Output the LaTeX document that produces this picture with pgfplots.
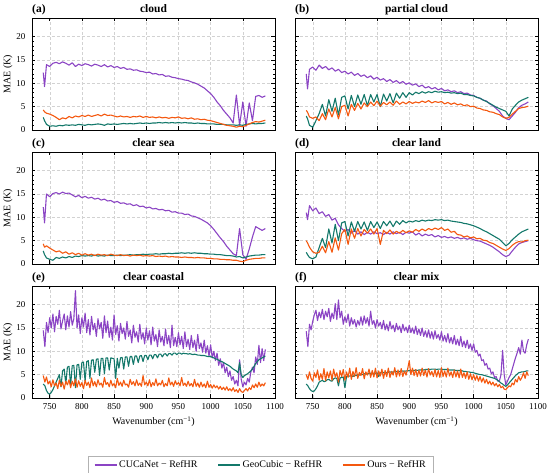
\documentclass[border=0pt]{standalone}
\usepackage{pgfplots}
\pgfplotsset{compat=1.18}
\usepackage{pgfplotstable}
\usepackage{fontspec}
\setmainfont{Liberation Serif}
\definecolor{cpur}{HTML}{8B44C4}
\definecolor{cteal}{HTML}{13786A}
\definecolor{cora}{HTML}{F4580F}

% panel (a) cloud
\pgfplotstableread{
x cu geo our
740 12.3 2.7 4.3
742 9.3 2.0 3.9
745 14.0 1.2 3.6
750 13.6 0.8 3.4
755 14.3 0.9 3.1
760 14.5 0.8 2.7
765 14.2 1.0 2.2
770 14.6 0.9 2.6
775 14.3 1.1 2.4
780 13.9 1.0 2.9
785 14.4 1.1 2.6
790 13.6 1.0 3.0
795 14.1 1.2 2.8
800 13.8 1.1 3.1
805 14.2 1.0 2.9
810 14.0 1.2 3.2
815 13.7 1.1 2.9
820 14.1 1.2 3.1
825 13.9 1.3 3.3
830 13.6 1.2 3.0
835 14.0 1.0 3.4
840 13.5 1.3 3.1
845 13.8 1.2 3.2
850 13.4 1.3 3.0
855 13.6 1.2 2.8
860 13.2 1.3 3.0
865 13.4 1.4 2.8
870 13.0 1.3 2.9
875 13.1 1.4 2.7
880 12.8 1.3 2.9
885 12.9 1.4 2.8
890 12.6 1.5 3.0
895 12.5 1.4 2.7
900 12.3 1.5 2.9
905 12.4 1.4 2.7
910 12.0 1.5 2.8
915 12.1 1.5 2.6
920 11.8 1.6 2.8
925 11.9 1.5 2.6
930 11.5 1.6 2.7
935 11.6 1.5 2.5
940 11.3 1.6 2.7
945 11.2 1.5 2.6
950 11.0 1.6 2.8
955 10.9 1.5 2.5
960 10.7 1.6 2.6
965 10.6 1.5 2.4
970 10.3 1.5 2.6
975 10.1 1.4 2.3
980 9.8 1.5 2.4
985 9.4 1.4 2.2
990 9.0 1.4 2.3
995 8.4 1.3 2.1
1000 7.8 1.3 2.0
1005 7.0 1.3 1.8
1010 6.0 1.2 1.6
1015 5.2 1.2 1.4
1020 4.2 1.2 1.2
1025 3.4 1.1 1.0
1030 2.6 1.1 0.9
1035 1.5 1.1 0.8
1040 7.5 1.0 0.6
1045 1.0 1.1 0.8
1050 6.0 1.0 0.7
1055 0.8 1.2 1.0
1060 5.8 1.3 1.3
1065 2.0 1.4 1.6
1070 7.2 1.3 1.8
1075 7.4 1.4 1.7
1080 7.0 1.4 1.9
1085 7.3 1.5 2.1
}\tA

% panel (b) partial cloud
\pgfplotstableread{
x cu geo our
740 12.0 3.0 4.2
742 8.8 2.4 3.8
745 13.0 1.0 2.8
750 13.5 0.6 2.5
755 12.8 2.0 2.8
760 13.9 3.5 2.0
765 13.2 5.5 3.5
770 13.6 3.0 2.2
775 12.9 6.5 4.5
780 13.3 4.0 2.8
785 12.6 6.8 4.8
790 13.0 3.2 2.4
795 12.3 7.0 5.0
800 12.6 7.3 5.3
805 12.0 4.5 3.0
810 12.4 7.4 5.5
815 11.7 5.0 4.2
820 12.1 7.5 5.7
825 11.5 5.5 4.5
830 11.8 7.6 5.8
835 11.2 5.2 5.0
840 11.6 7.6 6.0
845 10.9 6.0 5.2
850 11.3 7.6 6.2
855 10.7 5.0 5.1
860 11.0 7.7 5.9
865 10.4 6.2 5.4
870 10.8 7.8 6.0
875 10.2 5.8 5.3
880 10.6 7.9 6.2
885 10.0 6.8 5.5
890 10.4 8.0 6.0
895 9.8 7.0 5.6
900 10.1 8.0 6.1
905 9.6 7.5 5.7
910 9.9 8.1 6.0
915 9.3 7.8 5.8
920 9.6 8.2 6.2
925 9.0 7.9 5.9
930 9.3 8.2 6.3
935 8.8 8.0 5.8
940 9.1 8.3 6.1
945 8.6 8.1 5.9
950 8.9 8.2 6.1
955 8.4 8.0 5.6
960 8.6 8.1 5.9
965 8.2 7.9 5.5
970 8.4 8.0 5.8
975 8.0 7.8 5.4
980 8.2 7.9 5.6
985 7.8 7.6 5.2
990 7.9 7.6 5.4
995 7.5 7.4 5.0
1000 7.4 7.3 5.1
1005 7.0 7.0 4.7
1010 6.8 6.8 4.6
1015 6.4 6.4 4.3
1020 6.2 6.1 4.2
1025 5.6 5.7 3.9
1030 5.2 5.3 3.8
1035 4.6 4.9 3.5
1040 4.0 4.6 3.3
1045 3.0 4.3 2.8
1050 2.5 4.0 2.5
1055 2.2 3.0 2.7
1060 3.0 4.5 3.4
1065 3.8 5.3 4.0
1070 4.8 6.0 4.6
1075 5.3 6.4 4.8
1080 5.6 6.7 4.9
1085 6.0 7.0 5.1
}\tB

% panel (c) clear sea
\pgfplotstableread{
x cu geo our
740 12.2 2.8 4.3
742 8.8 2.0 3.6
745 15.0 1.3 3.9
750 14.4 1.0 3.4
755 15.1 0.8 3.0
760 15.3 1.4 2.6
765 15.0 1.2 2.8
770 15.4 1.5 2.3
775 15.1 1.3 2.6
780 15.2 1.6 2.1
785 14.8 1.4 2.4
790 14.4 1.7 2.0
795 14.7 1.6 2.3
800 14.2 1.8 1.9
805 14.5 1.7 2.2
810 14.1 1.8 1.9
815 14.3 1.7 2.1
820 13.9 1.9 1.8
825 14.1 1.7 2.1
830 13.7 1.8 1.9
835 13.9 1.7 2.0
840 13.5 1.9 1.8
845 13.6 1.8 2.1
850 13.2 1.8 1.9
855 13.4 1.9 1.8
860 13.0 1.8 2.0
865 13.1 1.9 1.8
870 12.8 1.9 1.9
875 12.9 2.0 1.7
880 12.5 1.9 1.9
885 12.7 2.0 1.8
890 12.3 2.0 1.9
895 12.4 2.1 1.7
900 12.0 2.0 1.8
905 12.2 2.1 1.7
910 11.8 2.1 1.8
915 11.9 2.2 1.6
920 11.6 2.1 1.7
925 11.7 2.2 1.6
930 11.4 2.2 1.7
935 11.5 2.3 1.5
940 11.1 2.2 1.6
945 11.2 2.3 1.5
950 10.9 2.3 1.5
955 10.9 2.4 1.4
960 10.6 2.3 1.5
965 10.7 2.4 1.4
970 10.3 2.3 1.4
975 10.2 2.4 1.3
980 9.9 2.3 1.4
985 9.6 2.3 1.3
990 9.2 2.2 1.3
995 8.8 2.2 1.2
1000 8.2 2.1 1.2
1005 7.4 2.1 1.1
1010 6.5 2.0 1.1
1015 5.6 2.0 1.0
1020 4.8 1.9 1.0
1025 3.8 1.8 0.9
1030 3.0 1.8 0.9
1035 2.2 1.7 0.8
1040 1.8 1.5 0.8
1045 7.6 1.6 0.6
1050 2.0 1.3 0.5
1055 1.0 1.5 0.8
1060 3.2 1.7 1.0
1065 5.8 1.8 1.1
1070 8.0 1.9 1.2
1075 7.6 1.9 1.2
1080 7.2 2.0 1.3
1085 7.6 2.0 1.3
}\tC

% panel (d) clear land
\pgfplotstableread{
x cu geo our
740 11.0 2.5 5.0
742 9.5 2.0 4.5
745 12.5 1.4 3.6
750 11.4 1.1 2.6
755 12.0 1.5 2.3
760 10.8 3.5 2.5
765 11.2 5.5 3.8
770 10.2 3.5 2.4
775 10.6 7.5 4.8
780 9.4 4.5 2.5
785 9.8 8.5 5.6
790 8.4 5.0 3.0
795 7.6 8.8 6.5
800 7.0 9.1 7.4
805 7.4 6.0 4.2
810 6.6 9.0 7.5
815 7.2 7.0 5.5
820 6.4 9.1 7.6
825 6.9 7.5 6.0
830 6.3 9.0 7.4
835 6.8 7.2 6.6
840 6.4 9.1 7.5
845 6.9 7.8 6.4
850 6.5 9.0 7.6
855 6.7 7.6 4.2
860 6.3 9.1 7.2
865 6.8 8.2 6.5
870 6.4 9.2 7.3
875 6.9 8.0 6.4
880 6.5 9.2 7.0
885 6.8 8.5 6.6
890 6.3 9.3 7.2
895 6.8 8.8 6.7
900 6.6 9.2 7.1
905 6.9 9.0 6.8
910 6.2 9.3 7.4
915 6.6 9.1 7.0
920 6.0 9.4 7.5
925 6.4 9.2 7.1
930 6.1 9.4 7.6
935 6.3 9.3 7.3
940 5.8 9.5 7.7
945 6.1 9.4 7.4
950 5.7 9.5 7.8
955 5.9 9.3 7.2
960 5.6 9.4 7.5
965 5.8 9.2 6.8
970 5.5 9.1 7.0
975 5.7 9.0 6.3
980 5.4 8.9 6.2
985 5.6 8.7 5.8
990 5.3 8.6 6.0
995 5.5 8.4 5.6
1000 5.2 8.2 5.8
1005 5.0 7.9 5.4
1010 4.9 7.6 5.5
1015 4.6 7.2 5.1
1020 4.3 6.9 5.0
1025 4.0 6.5 4.6
1030 3.6 6.1 4.4
1035 3.1 5.7 4.0
1040 2.6 5.3 3.6
1045 2.0 4.6 3.2
1050 1.6 3.9 2.9
1055 1.9 4.4 3.3
1060 2.8 5.2 4.0
1065 3.6 5.8 4.5
1070 4.3 6.4 4.8
1075 4.6 6.9 4.7
1080 4.8 7.2 5.0
1085 5.0 7.5 5.1
}\tD

% panel (e) clear coastal
\pgfplotstableread{
x cu geo our
740 14.5 3.0 4.8
742.5 11.0 2.6 3.4
745 16.2 1.6 4.5
747.5 14.0 1.0 3.0
750 17.2 0.8 3.6
752.5 15.0 1.2 2.4
755 18.0 1.8 3.9
757.5 14.2 2.6 2.6
760 17.5 3.4 3.2
762.5 15.8 4.2 2.0
765 18.8 5.0 3.8
767.5 14.8 2.4 2.5
770 16.5 5.8 3.4
772.5 18.0 6.2 1.9
775 14.6 3.0 3.6
777.5 17.6 6.6 2.8
780 15.2 6.8 3.9
782.5 18.5 2.8 2.2
785 15.6 6.9 3.6
787.5 17.0 7.0 2.6
790 23.0 2.2 4.1
792.5 15.0 7.1 2.3
795 17.8 7.2 3.7
797.5 13.8 4.0 2.5
800 17.2 7.6 3.3
802.5 15.2 7.7 2.0
805 18.2 3.6 3.8
807.5 14.0 7.8 2.7
810 16.8 8.0 3.4
812.5 13.5 4.2 2.2
815 17.5 8.1 4.3
817.5 14.6 8.2 2.6
820 16.0 5.5 3.5
822.5 13.2 8.3 2.4
825 17.0 8.4 3.9
827.5 14.8 4.8 2.8
830 16.2 8.5 3.2
832.5 12.8 8.5 2.3
835 17.6 5.2 4.4
837.5 14.0 8.6 2.9
840 16.5 8.6 3.3
842.5 13.0 6.0 2.4
845 15.2 8.6 3.8
847.5 12.4 8.5 2.6
850 17.8 8.4 3.1
852.5 13.6 4.2 2.2
855 15.5 8.5 4.2
857.5 12.2 6.4 2.7
860 16.0 8.6 3.4
862.5 13.8 8.7 2.5
865 15.0 6.2 3.8
867.5 12.6 8.8 2.8
870 16.4 8.8 3.0
872.5 13.2 6.8 2.3
875 14.6 8.9 4.0
877.5 11.8 8.9 2.9
880 15.6 7.2 3.5
882.5 13.0 9.0 2.6
885 14.2 9.0 3.9
887.5 12.0 7.6 2.7
890 15.8 9.0 3.2
892.5 12.6 9.1 2.5
895 14.0 7.8 4.8
897.5 11.6 9.1 2.8
900 15.0 9.1 3.4
902.5 12.4 8.2 2.6
905 14.4 9.2 3.9
907.5 11.4 9.2 2.4
910 15.2 8.4 3.3
912.5 12.2 9.3 2.7
915 13.6 9.3 4.1
917.5 11.0 8.6 2.6
920 14.6 9.4 3.2
922.5 12.0 9.4 2.8
925 13.2 8.8 3.8
927.5 11.2 9.4 2.4
930 14.8 9.5 3.1
932.5 11.6 9.0 2.6
935 13.4 9.5 4.3
937.5 10.8 9.5 2.8
940 15.6 9.2 3.4
942.5 11.2 9.6 2.5
945 13.0 9.6 3.7
947.5 11.0 9.3 2.9
950 14.0 9.6 3.3
952.5 11.4 9.6 2.6
955 13.2 9.4 4.4
957.5 10.6 9.6 2.7
960 14.2 9.5 3.2
962.5 11.0 9.5 2.5
965 12.6 9.4 3.6
967.5 10.4 9.5 2.6
970 13.4 9.4 3.1
972.5 10.8 9.3 2.4
975 12.4 9.4 4.0
977.5 10.0 9.3 2.5
980 13.6 9.2 3.2
982.5 10.6 9.2 2.3
985 11.8 9.1 3.4
987.5 9.8 9.1 2.4
990 12.4 9.1 3.0
992.5 9.6 9.0 2.2
995 11.2 8.9 3.6
997.5 9.0 8.9 2.3
1000 11.4 8.9 2.9
1002.5 8.6 8.7 2.1
1005 10.0 8.6 2.8
1007.5 8.0 8.4 2.2
1010 9.6 8.3 2.6
1012.5 7.0 8.1 1.9
1015 8.4 7.9 2.5
1017.5 6.4 7.8 1.8
1020 7.6 7.6 2.3
1022.5 5.4 7.4 1.7
1025 6.6 7.2 2.4
1027.5 4.6 7.0 1.6
1030 5.8 6.8 2.0
1032.5 3.8 6.5 1.5
1035 4.6 6.2 2.2
1037.5 3.0 6.0 1.4
1040 3.8 5.8 1.8
1042.5 2.6 5.4 1.2
1045 8.2 7.6 2.0
1047.5 4.0 5.0 1.4
1050 2.4 4.4 1.2
1052.5 3.4 4.8 1.6
1055 2.8 5.0 2.0
1057.5 4.2 5.2 1.5
1060 3.4 5.5 2.2
1062.5 5.6 5.8 1.8
1065 6.6 6.2 2.8
1067.5 5.4 6.8 2.2
1070 8.8 7.4 3.0
1072.5 7.2 7.8 2.3
1075 11.3 8.2 3.4
1077.5 7.6 8.4 2.5
1080 10.6 8.6 3.0
1082.5 8.0 8.8 2.6
1085 10.4 9.0 3.3
}\tE

% panel (f) clear mix
\pgfplotstableread{
x cu geo our
740 14.3 3.0 5.0
742.5 11.0 2.6 4.0
745 15.8 2.0 5.6
747.5 14.6 1.6 4.2
750 16.4 1.4 3.6
752.5 17.8 1.5 5.4
755 18.8 2.0 4.4
757.5 16.6 2.6 6.0
760 18.4 3.4 3.8
762.5 17.2 3.6 5.2
765 19.0 3.8 4.0
767.5 16.8 3.5 6.3
770 18.6 3.6 3.7
772.5 17.4 3.9 5.6
775 19.2 4.0 4.3
777.5 16.4 3.7 5.8
780 18.2 3.6 3.8
782.5 17.0 4.1 6.2
785 20.2 4.3 4.5
787.5 16.8 4.2 5.4
790 21.0 2.6 3.4
792.5 17.2 4.3 5.9
795 18.6 4.4 4.6
797.5 15.8 4.5 6.1
800 17.4 2.2 3.8
802.5 16.2 4.6 5.6
805 18.0 4.7 4.4
807.5 15.4 4.7 6.4
810 17.2 4.8 4.0
812.5 15.8 4.6 5.7
815 16.8 4.9 4.6
817.5 15.2 4.8 6.5
820 16.6 5.0 4.2
822.5 15.6 4.9 5.5
825 17.4 5.1 4.8
827.5 15.6 5.0 6.3
830 17.6 5.2 4.1
832.5 16.0 5.1 5.6
835 17.2 5.2 4.9
837.5 15.4 5.2 6.2
840 18.6 5.3 4.4
842.5 15.8 5.2 5.9
845 16.6 5.3 4.5
847.5 15.0 5.3 6.4
850 16.8 5.4 4.3
852.5 15.4 4.6 5.8
855 16.2 5.4 4.7
857.5 14.8 5.4 6.2
860 16.6 5.5 4.2
862.5 14.6 5.4 5.9
865 15.8 5.5 4.6
867.5 14.4 5.5 6.4
870 16.4 5.6 4.4
872.5 14.8 5.5 5.7
875 15.6 5.6 4.9
877.5 14.2 5.6 6.5
880 16.0 5.7 4.5
882.5 14.6 5.6 6.0
885 15.4 5.7 4.7
887.5 14.0 5.7 6.3
890 15.8 5.8 4.6
892.5 14.4 5.7 5.8
895 15.2 5.8 4.9
897.5 14.0 5.8 6.2
900 15.6 5.9 8.0
902.5 14.0 5.8 5.0
905 15.0 5.9 6.4
907.5 13.8 5.9 4.8
910 15.4 6.0 6.1
912.5 13.6 5.9 4.6
915 14.8 6.0 5.9
917.5 13.4 6.0 4.7
920 15.0 6.1 6.4
922.5 13.2 6.0 4.8
925 14.4 6.1 6.0
927.5 13.0 6.1 4.5
930 14.6 6.2 6.3
932.5 12.8 6.1 4.9
935 14.2 6.2 5.7
937.5 12.6 6.2 4.6
940 14.4 6.2 6.1
942.5 12.8 6.1 4.5
945 13.6 6.2 5.9
947.5 12.4 6.2 4.4
950 14.2 6.2 6.5
952.5 12.2 6.1 4.6
955 13.4 6.1 5.8
957.5 12.0 6.1 4.5
960 13.8 6.1 6.4
962.5 11.8 6.0 4.7
965 13.0 6.0 5.6
967.5 11.6 6.0 4.4
970 13.4 6.0 6.0
972.5 11.4 5.9 4.5
975 12.6 5.9 5.8
977.5 11.2 5.9 4.3
980 13.2 5.9 6.2
982.5 11.0 5.8 4.4
985 12.2 5.7 5.4
987.5 10.8 5.7 4.2
990 12.4 5.6 5.6
992.5 10.6 5.6 4.0
995 11.6 5.5 5.2
997.5 10.2 5.5 3.9
1000 11.6 5.4 5.0
1002.5 9.8 5.3 3.8
1005 10.2 5.2 4.8
1007.5 9.0 5.1 3.6
1010 9.4 5.0 4.6
1012.5 8.0 5.0 3.4
1015 8.2 4.9 4.3
1017.5 7.0 4.8 3.2
1020 7.4 4.7 4.0
1022.5 6.2 4.6 3.0
1025 6.4 4.5 3.6
1027.5 5.2 4.4 2.8
1030 5.6 4.3 3.4
1032.5 4.4 4.2 2.6
1035 4.6 4.0 3.1
1037.5 3.6 3.8 2.4
1040 3.6 3.5 2.9
1042.5 5.0 3.2 2.2
1045 10.2 3.0 2.5
1047.5 5.0 2.7 1.9
1050 2.8 2.5 1.8
1052.5 3.6 2.8 2.2
1055 4.4 3.2 2.6
1057.5 5.0 3.6 2.4
1060 6.2 4.0 3.2
1062.5 7.4 4.4 2.8
1065 8.6 4.8 4.0
1067.5 9.6 5.1 3.4
1070 10.8 5.4 4.6
1072.5 9.4 5.5 3.8
1075 12.4 5.6 4.4
1077.5 10.0 5.6 5.4
1080 9.6 5.7 4.2
1082.5 11.4 5.8 5.6
1085 12.6 5.8 4.8
}\tF

\pgfplotsset{
  panel/.style={
    scale only axis, width=243pt, height=112pt,
    xmin=722.5, xmax=1100, ymin=0, ymax=24,
    xtick={750,800,...,1100}, ytick={0,5,...,20},
    minor y tick num=4,
    tick align=inside,
    xtick pos=both, ytick pos=both,
    major tick length=3.5pt, minor tick length=2pt,
    every tick/.style={black, line width=0.5pt},
    axis line style={line width=0.8pt},
    grid=major,
    major grid style={densely dashed, gray!35, line width=0.4pt},
    clip mode=individual,
    /pgf/number format/assume math mode=true,
    /pgf/number format/1000 sep={},
    ticklabel style={font=\fontsize{9}{10}\selectfont},
    yticklabel style={xshift=-3pt},
    xticklabel style={yshift=-2pt},
    label style={font=\fontsize{10}{12}\selectfont},
    ylabel style={at={(axis description cs:-0.099,0.5)}, anchor=center},
    every axis plot/.append style={line width=1.1pt, no markers, line join=round},
  },
  lefty/.style={ylabel={MAE (K)}},
  righty/.style={yticklabels={}},
  nox/.style={xticklabels={}},
  botx/.style={xlabel={Wavenumber (cm\textsuperscript{−1})}},
}
\newcommand{\plab}[2]{%
  \node[anchor=base west, inner sep=0pt, yshift=5.5pt,
    font=\fontsize{11.5}{13}\selectfont\bfseries] at (rel axis cs:0,1) {#1};
  \node[anchor=base, inner sep=0pt, yshift=5.5pt,
    font=\fontsize{11.5}{13}\selectfont\bfseries] at (rel axis cs:0.5,1) {#2};}

\begin{document}
\begin{tikzpicture}
\useasboundingbox (0,0) rectangle (550pt,473pt);

\begin{axis}[panel, lefty, nox, at={(32pt,343pt)}, anchor=south west]
\addplot[cpur] table[x=x,y=cu]{\tA};
\addplot[cteal] table[x=x,y=geo]{\tA};
\addplot[cora] table[x=x,y=our]{\tA};
\plab{(a)}{cloud}
\end{axis}

\begin{axis}[panel, righty, nox, at={(295pt,343pt)}, anchor=south west]
\addplot[cpur] table[x=x,y=cu]{\tB};
\addplot[cteal] table[x=x,y=geo]{\tB};
\addplot[cora] table[x=x,y=our]{\tB};
\plab{(b)}{partial cloud}
\end{axis}

\begin{axis}[panel, lefty, nox, at={(32pt,209pt)}, anchor=south west]
\addplot[cpur] table[x=x,y=cu]{\tC};
\addplot[cteal] table[x=x,y=geo]{\tC};
\addplot[cora] table[x=x,y=our]{\tC};
\plab{(c)}{clear sea}
\end{axis}

\begin{axis}[panel, righty, nox, at={(295pt,209pt)}, anchor=south west]
\addplot[cpur] table[x=x,y=cu]{\tD};
\addplot[cteal] table[x=x,y=geo]{\tD};
\addplot[cora] table[x=x,y=our]{\tD};
\plab{(d)}{clear land}
\end{axis}

\begin{axis}[panel, lefty, botx, at={(32pt,75pt)}, anchor=south west,
  legend columns=3,
  legend style={at={(0.942,-0.598)}, anchor=center, draw=gray!60, line width=0.5pt,
    font=\fontsize{10}{12}\selectfont, inner xsep=6pt, inner ysep=2pt,
    /tikz/every even column/.append style={column sep=18pt}},
  legend image code/.code={\draw[#1, line width=1.1pt] (0pt,0pt) -- (22pt,0pt);}]
\addplot[cpur] table[x=x,y=cu]{\tE};
\addlegendentry{CUCaNet − RefHR}
\addplot[cteal] table[x=x,y=geo]{\tE};
\addlegendentry{GeoCubic − RefHR}
\addplot[cora] table[x=x,y=our]{\tE};
\addlegendentry{Ours − RefHR}
\plab{(e)}{clear coastal}
\end{axis}

\begin{axis}[panel, righty, botx, at={(295pt,75pt)}, anchor=south west]
\addplot[cpur] table[x=x,y=cu]{\tF};
\addplot[cteal] table[x=x,y=geo]{\tF};
\addplot[cora] table[x=x,y=our]{\tF};
\plab{(f)}{clear mix}
\end{axis}

\end{tikzpicture}
\end{document}
